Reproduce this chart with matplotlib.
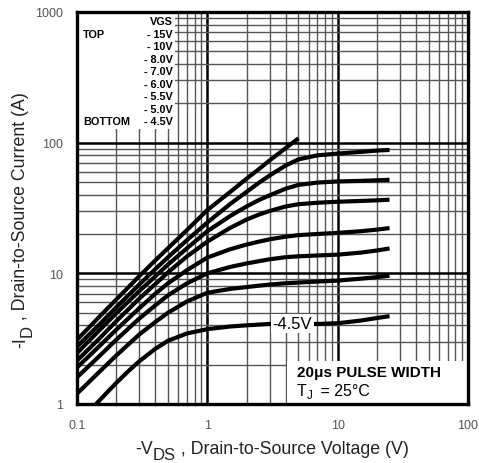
import matplotlib
matplotlib.use("Agg")
import matplotlib.pyplot as plt
from matplotlib.patches import Rectangle
from matplotlib.ticker import FixedLocator, NullFormatter

plt.rcParams['font.family'] = ['Liberation Sans', 'DejaVu Sans']

# ---- data ----
vds = [0.1, 0.15, 0.2, 0.3, 0.4, 0.5, 0.7, 1, 1.5, 2, 2.5, 3, 4, 5, 7, 10, 15, 20, 25]

vds_15 = [0.1, 0.15, 0.2, 0.3, 0.4, 0.5, 0.7, 1, 1.5, 2, 2.5, 3, 4, 5]
id_15 = [3.1, 4.7, 6.3, 9.5, 12.6, 15.6, 21.5, 30.5, 42, 53, 63, 73, 91, 108]

id_10 = [2.75, 4.1, 5.5, 8.2, 10.8, 13.3, 18, 24.5, 34, 42, 49.5, 56, 67, 74.5, 80, 82.5, 85, 87, 88]
id_8 = [2.45, 3.7, 4.95, 7.3, 9.5, 11.7, 15.6, 21, 27.5, 32.5, 36.5, 39.5, 44.5, 47.5, 49.5, 50.5, 51, 51.5, 52]
id_7 = [2.15, 3.2, 4.3, 6.4, 8.3, 10.2, 13.5, 17.5, 22.3, 25.8, 28.2, 30, 32.5, 33.8, 34.7, 35.3, 35.8, 36.2, 36.6]
id_6 = [1.9, 2.8, 3.7, 5.4, 7.0, 8.4, 10.6, 13.2, 15.3, 16.6, 17.5, 18.2, 19.1, 19.6, 20.0, 20.4, 21.0, 21.6, 22.2]
id_55 = [1.6, 2.35, 3.1, 4.5, 5.7, 6.8, 8.4, 10.0, 11.2, 11.9, 12.4, 12.8, 13.3, 13.5, 13.7, 13.9, 14.4, 14.95, 15.5]
id_5 = [1.2, 1.78, 2.35, 3.4, 4.25, 5.0, 6.1, 7.1, 7.6, 7.85, 8.05, 8.2, 8.4, 8.5, 8.65, 8.8, 9.1, 9.35, 9.6]

vds_45 = [0.14, 0.2, 0.25, 0.3, 0.4, 0.5, 0.7, 1, 1.5, 2, 3, 5, 7, 10, 15, 20, 25]
id_45 = [1.0, 1.45, 1.8, 2.12, 2.65, 3.05, 3.47, 3.74, 3.92, 4.0, 4.1, 4.1, 4.1, 4.15, 4.35, 4.55, 4.7]

legend_vgs = ["- 15V", "- 10V", "- 8.0V", "- 7.0V", "- 6.0V", "- 5.5V", "- 5.0V", "- 4.5V"]
x_ticks = [0.1, 1, 10, 100]
x_ticklabels = ["0.1", "1", "10", "100"]
y_ticks = [1, 10, 100, 1000]
y_ticklabels = ["1", "10", "100", "1000"]

W, H = 479, 464
fig = plt.figure(figsize=(W / 100, H / 100), dpi=100)
ax = fig.add_axes([77 / W, 59 / H, 391 / W, 392 / H])
ax.set_xscale('log')
ax.set_yscale('log')
ax.set_xlim(0.1, 100)
ax.set_ylim(1, 1000)

# grid
ax.set_axisbelow(True)
ax.xaxis.set_minor_locator(FixedLocator([m * 10.0**e for e in range(-1, 2) for m in range(2, 10)]))
ax.yaxis.set_minor_locator(FixedLocator([m * 10.0**e for e in range(0, 3) for m in range(2, 10)]))
ax.xaxis.set_minor_formatter(NullFormatter())
ax.yaxis.set_minor_formatter(NullFormatter())
ax.grid(True, which='major', color='black', lw=1.8)
ax.grid(True, which='minor', color='#555555', lw=1.0)

ax.set_xticks(x_ticks)
ax.set_xticklabels(x_ticklabels)
ax.set_yticks(y_ticks)
ax.set_yticklabels(y_ticklabels)
ax.tick_params(which='both', length=0)
ax.tick_params(axis='x', pad=10.5, labelsize=9, labelcolor='#555555')
ax.tick_params(axis='y', pad=10, labelsize=9, labelcolor='#555555')

for s in ax.spines.values():
    s.set_linewidth(2.4)
    s.set_color('black')
    s.set_zorder(5)

# white boxes hiding the grid
ax.add_patch(Rectangle((0.1, 127), 0.565 - 0.1, 1000 - 127, facecolor='white',
                       edgecolor='none', zorder=1))
ax.add_patch(Rectangle((4.1, 1), 100 - 4.1, 2.13 - 1, facecolor='white',
                       edgecolor='none', zorder=1))

# curves
kw = dict(color='black', lw=3.0, solid_capstyle='butt', solid_joinstyle='round', zorder=3)
ax.plot(vds_15, id_15, **kw)
ax.plot(vds, id_10, **kw)
ax.plot(vds, id_8, **kw)
ax.plot(vds, id_7, **kw)
ax.plot(vds, id_6, **kw)
ax.plot(vds, id_55, **kw)
ax.plot(vds, id_5, **kw)
ax.plot(vds_45, id_45, **kw)

ax.text(4.5, 4.1, "-4.5V", fontsize=12, ha='center', va='center', zorder=4,
        bbox=dict(facecolor='white', edgecolor='none', pad=1.5))


def px(xp, yp):
    return ((xp - 77) / 391, (405 - yp) / 392)


# legend text (top-left)
tx, ty = px(173, 22.5)
ax.text(tx, ty, "VGS", transform=ax.transAxes, ha='right', va='center',
        fontsize=7.8, fontweight='bold', zorder=4)
for i, s in enumerate(legend_vgs):
    tx, ty = px(173, 35 + 12.5 * i)
    ax.text(tx, ty, s, transform=ax.transAxes, ha='right', va='center',
            fontsize=7.8, fontweight='bold', zorder=4)
tx, ty = px(83, 35)
ax.text(tx, ty, "TOP", transform=ax.transAxes, ha='left', va='center',
        fontsize=7.8, fontweight='bold', zorder=4)
tx, ty = px(83, 122.5)
ax.text(tx, ty, "BOTTOM", transform=ax.transAxes, ha='left', va='center',
        fontsize=7.8, fontweight='bold', zorder=4)

# annotation bottom-right
tx, ty = px(297, 373)
ax.text(tx, ty, "20\u03bcs PULSE WIDTH", transform=ax.transAxes, ha='left',
        va='center', fontsize=11, fontweight='bold', zorder=4)
tx, ty = px(297, 392)
t_tj = ax.text(tx, ty, "T", transform=ax.transAxes, ha='left', va='center',
               fontsize=11.5, zorder=4)

renderer = fig.canvas.get_renderer()


def rich(pieces, cx, cy, rotation, color='#222222'):
    """pieces: (text, fontsize, shift_px). Baseline centred at pixel (cx, cy) (top-origin)."""
    texts = []
    lengths = []
    for s, fs, _ in pieces:
        t = fig.text(0, 0, s, fontsize=fs, color=color, rotation=rotation,
                     rotation_mode='anchor', ha='left', va='baseline')
        bb = t.get_window_extent(renderer)
        lengths.append(bb.height if rotation == 90 else bb.width)
        texts.append(t)
    total = sum(lengths)
    pos = -total / 2
    for t, L, (_, _, sh) in zip(texts, lengths, pieces):
        if rotation == 90:
            x = cx + sh
            y = cy - pos
        else:
            x = cx + pos
            y = cy + sh
        t.set_position((x / W, (H - y) / H))
        pos += L


# T_J = 25°C (subscript)
bb = t_tj.get_window_extent(renderer)
fig.text(bb.x1 / W, (H - 396) / H, "J", fontsize=8.5, color='black', ha='left', va='center')
fig.text((bb.x1 + 9) / W, (H - 392) / H, " = 25\u00b0C", fontsize=11.5, color='black',
         ha='left', va='center')

# axis labels
rich([("-V", 12.8, 0), ("DS", 12.0, 6), (" , Drain-to-Source Voltage (V)", 12.8, 0)],
     272, 454, 0)
rich([("-I", 12.8, 0), ("D", 12.0, 7), (" , Drain-to-Source Current (A)", 12.8, 0)],
     25, 220, 90)

fig.savefig("out.png", dpi=100)
